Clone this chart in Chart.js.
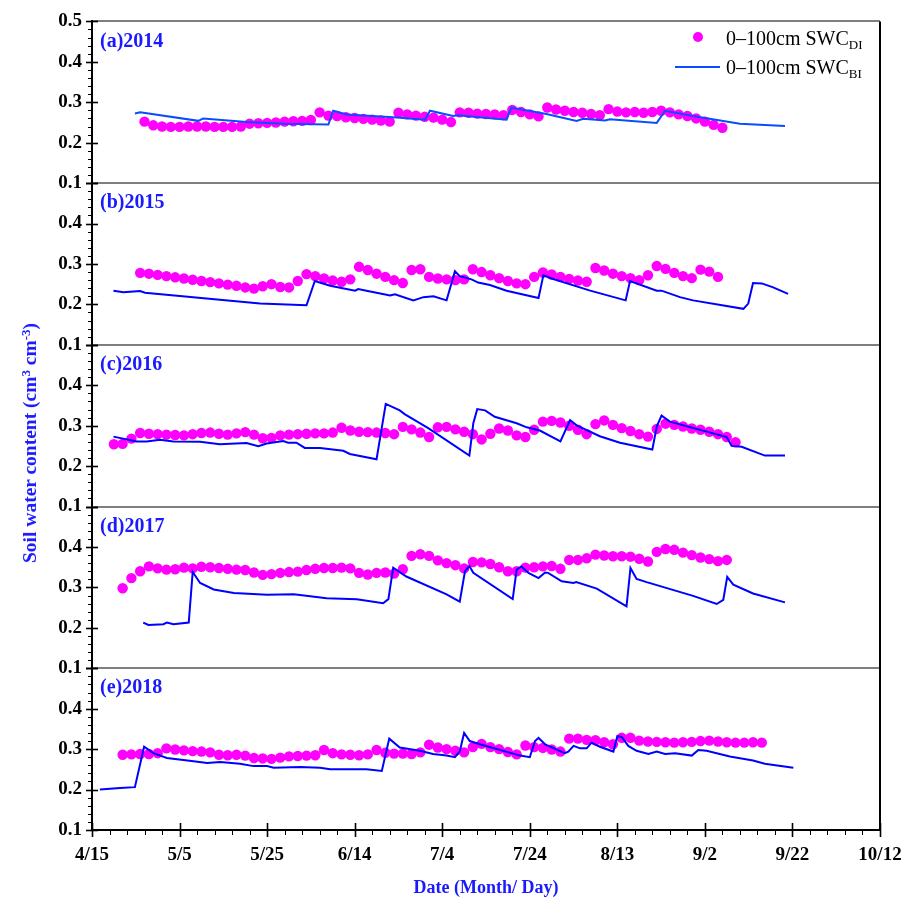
<!DOCTYPE html>
<html><head><meta charset="utf-8">
<script src="https://cdn.jsdelivr.net/npm/chart.js@4.4.1/dist/chart.umd.min.js"></script>
<style>
html,body{margin:0;padding:0;background:#fff;}
#wrap{position:relative;width:908px;height:899px;overflow:hidden;}
#c{position:absolute;left:0;top:0;}
.lg{position:absolute;font-family:'Liberation Serif',serif;font-size:20px;color:#000;white-space:nowrap;line-height:20px;}
.lg sub{font-size:13px;vertical-align:-4px;line-height:0;}
#ytitle{position:absolute;left:30px;top:443px;transform:translate(-50%,-50%) rotate(-90deg);font-family:'Liberation Serif',serif;font-weight:bold;font-size:19.5px;color:#1a1aff;white-space:nowrap;}
#ytitle sup{font-size:13px;vertical-align:6px;line-height:0;}
</style></head>
<body><div id="wrap">
<canvas id="c" width="908" height="899"></canvas>
<div id="ytitle">Soil water content (cm<sup>3</sup> cm<sup>-3</sup>)</div>
<div style="position:absolute;left:693px;top:32px;width:10px;height:10px;border-radius:50%;background:#ff00ff;"></div>
<div class="lg" style="left:726px;top:28px;">0–100cm SWC<sub>DI</sub></div>
<div style="position:absolute;left:675px;top:66px;width:45px;height:2px;background:#0a4dff;"></div>
<div class="lg" style="left:726px;top:57px;">0–100cm SWC<sub>BI</sub></div>
</div>
<script>
// x = days after 15 April
const xTickLabels = ['4/15','5/5','5/25','6/14','7/4','7/24','8/13','9/2','9/22','10/12'];
const yTickLabels = ['0.1','0.2','0.3','0.4','0.5'];
const years = [2014, 2015, 2016, 2017, 2018];
const panelLabels = ['(a)2014','(b)2015','(c)2016','(d)2017','(e)2018'];
const DI_STEP = 2;

// ---- 2014 ----
const di2014Start = 12;
const di2014 = [.252,.243,.240,.239,.239,.240,.240,.240,.239,.239,.239,.240,.247,.248,.249,.250,.252,.253,.254,.256,
  .275,.267,.266,.263,.261,.259,.257,.255,.252,.274,.270,.267,.264,.262,.257,.251,.275,.274,.272,.271,.270,.268,
  .281,.276,.270,.265,.287,.282,.279,.276,.274,.271,.268,.283,.277,.275,.276,.274,.276,.279,.275,.270,.266,.260,.252,.244,.237];
const biDays2014 = [9.8,11,24.3,25.4,35.3,43.7,54,55.1,58.2,68.8,76.1,77.2,82.5,83.5,94.7,95.8,103.8,110.7,112.2,117.2,118.3,129,130.9,137.3,148,158.3];
const bi2014 = [.272,.275,.254,.260,.251,.247,.245,.279,.270,.263,.257,.279,.266,.268,.257,.287,.271,.254,.259,.255,.258,.249,.279,.266,.247,.241];

// ---- 2015 ----
const di2015Start = 11;
const di2015 = [.278,.276,.273,.270,.267,.264,.261,.258,.255,.252,.249,.246,.242,.239,.245,.250,.243,.242,.258,.275,
  .270,.264,.259,.256,.262,.293,.285,.276,.268,.260,.253,.285,.287,.268,.264,.262,.260,.262,.287,.280,.272,.265,
  .258,.252,.250,.268,.279,.274,.268,.263,.259,.256,.290,.284,.276,.270,.265,.260,.272,.295,.288,.278,.270,.265,.286,.281,.268];
const biDays2015 = [4.9,7.2,11,12.1,38.4,49,50.9,54.4,60.1,60.8,62.7,68.1,69.2,73.4,75.7,78,81,82.9,84,86.7,88.2,90.9,94.7,102,103.1,105,113.8,121.9,122.9,129,130.1,134.3,137.3,148.8,149.9,151,153,155.6,159];
const bi2015 = [.234,.230,.233,.229,.202,.198,.258,.246,.234,.238,.234,.222,.225,.210,.218,.220,.210,.282,.270,.262,.254,.248,.234,.216,.272,.264,.234,.210,.258,.234,.234,.218,.210,.189,.202,.253,.252,.242,.226];

// ---- 2016 ----
const di2016Start = 5;
const di2016 = [.254,.255,.268,.282,.280,.279,.278,.277,.276,.279,.282,.283,.280,.278,.281,.284,.278,.269,.270,.276,
  .278,.279,.280,.281,.281,.283,.295,.288,.285,.284,.283,.282,.279,.297,.291,.283,.272,.296,.297,.291,.285,.279,
  .266,.280,.293,.288,.276,.272,.290,.310,.312,.308,.300,.290,.279,.304,.313,.302,.294,.287,.279,.273,.292,.305,
  .302,.298,.293,.290,.285,.279,.272,.259];
const biDays2016 = [4.9,10.2,12.5,15.5,18.6,24.7,29.2,35.3,38,39.9,43.7,44.8,46.7,48.6,52.1,57.4,58.9,65,67.1,70.3,71.5,76.8,86.2,87.1,88,89.8,92,97,99.3,102.3,107,109.2,110.7,116,120.6,128,129,130.1,132,145,146.1,148.4,153.7,158.3];
const bi2016 = [.273,.261,.261,.265,.261,.260,.254,.257,.249,.256,.262,.258,.258,.245,.245,.238,.230,.217,.354,.338,.328,.294,.226,.306,.341,.338,.322,.306,.296,.288,.261,.314,.301,.274,.258,.241,.298,.325,.310,.272,.250,.248,.226,.226];

// ---- 2017 ----
const di2017Start = 7;
const di2017 = [.298,.323,.340,.352,.347,.344,.345,.349,.347,.351,.350,.348,.346,.344,.343,.337,.331,.333,.336,.338,
  .339,.343,.346,.348,.348,.349,.347,.336,.332,.336,.337,.334,.345,.378,.382,.378,.367,.360,.355,.347,.363,.362,
  .358,.350,.340,.340,.349,.350,.352,.353,.346,.368,.368,.372,.381,.379,.377,.377,.376,.371,.364,.388,.395,.393,
  .386,.380,.374,.370,.365,.368];
const biDays2017 = [11.7,12.9,16.3,17.1,18.6,22.1,23,24.7,27.8,32.4,40,46.1,53.6,60.5,66.5,67.7,68.8,71.8,81,84,85.2,86.2,87.1,96.1,97,98.1,99.7,102,103.5,104.2,107.3,110,110.6,115.3,122.1,123,124.4,126.7,137.3,142.7,144.2,145.1,146.5,151,158.3];
const bi2017 = [.213,.207,.209,.213,.209,.213,.338,.311,.295,.286,.282,.283,.273,.271,.261,.271,.349,.327,.283,.265,.340,.353,.336,.271,.344,.352,.336,.323,.337,.336,.315,.311,.313,.297,.253,.348,.321,.313,.279,.259,.269,.326,.307,.285,.263];

// ---- 2018 ----
const di2018Start = 7;
const di2018 = [.286,.287,.288,.288,.290,.302,.299,.297,.295,.294,.292,.286,.285,.286,.284,.278,.277,.276,.279,.282,
  .283,.284,.285,.298,.290,.287,.286,.285,.287,.298,.291,.289,.289,.288,.292,.311,.304,.300,.296,.292,.305,.313,
  .305,.300,.293,.287,.309,.305,.303,.299,.294,.326,.326,.323,.322,.317,.312,.328,.328,.321,.319,.318,.317,.316,
  .317,.318,.320,.321,.319,.317,.316,.316,.317,.316];
const biDays2018 = [1.8,6.4,9.8,11.9,14,17.1,23.2,26.3,29.3,33.8,36.9,40,41.5,47.5,52.1,54.4,62.7,66.2,67.9,70.3,74.9,77.9,81,82.9,84,85,86.3,88.6,97.8,100,101.2,102,103.5,108,108.8,110,111.5,113,114.1,116,119.1,120,121,122.5,124.4,127.1,129,130.9,133.2,137,138.5,140.4,145.7,151,153.7,160.2];
const bi2018 = [.200,.204,.206,.306,.290,.278,.270,.266,.268,.264,.258,.258,.254,.256,.254,.250,.250,.246,.326,.304,.296,.288,.284,.280,.294,.340,.320,.312,.284,.280,.320,.328,.312,.290,.294,.308,.302,.302,.316,.306,.294,.332,.330,.308,.296,.288,.294,.288,.290,.284,.298,.296,.282,.272,.264,.254];

const diSeries = [[di2014Start,di2014],[di2015Start,di2015],[di2016Start,di2016],[di2017Start,di2017],[di2018Start,di2018]];
const biSeries = [[biDays2014,bi2014],[biDays2015,bi2015],[biDays2016,bi2016],[biDays2017,bi2017],[biDays2018,bi2018]];
const biColors = ['#0a4dff','#0000ff','#0000ff','#0000ff','#0000ff'];

const FONT = 'Liberation Serif';
const datasets = [];
years.forEach((yr, i) => {
  const [bd, bv] = biSeries[i];
  datasets.push({
    label: '0–100cm SWC BI ' + yr, yAxisID: 'y' + yr, order: 0,
    data: bd.map((d, k) => ({x: d, y: bv[k]})),
    borderColor: biColors[i], borderWidth: 2, pointRadius: 0, tension: 0, fill: false
  });
  const [st, dv] = diSeries[i];
  datasets.push({
    label: '0–100cm SWC DI ' + yr, yAxisID: 'y' + yr, order: 1, showLine: false,
    data: dv.map((v, k) => ({x: st + k * DI_STEP, y: v})),
    pointRadius: 5.2, pointBorderWidth: 0, pointBackgroundColor: '#ff00ff', pointBorderColor: '#ff00ff'
  });
});

const scales = {
  x: {
    type: 'linear', position: 'bottom', min: 0, max: 180,
    border: {color: '#000', width: 2},
    grid: {drawOnChartArea: false, drawTicks: false},
    ticks: {stepSize: 20, autoSkip: false, maxRotation: 0, padding: 14, color: '#000',
      font: {family: FONT, size: 19, weight: 'bold'},
      callback: v => xTickLabels[Math.round(v / 20)]},
    title: {display: true, text: 'Date (Month/ Day)', color: '#1a1aff',
      font: {family: FONT, size: 18, weight: 'bold'}, padding: {top: 16, bottom: 0}},
    afterFit: s => { s.height = 69; s.paddingRight = 20; s.paddingLeft = 0; }
  }
};
// stacked left axes are laid out bottom-up, so add the last panel first
years.slice().reverse().forEach(yr => {
  scales['y' + yr] = {
    type: 'linear', position: 'left', stack: 'panels', stackWeight: 1,
    min: 0.1, max: 0.5,
    border: {color: '#000', width: 2},
    grid: {drawTicks: false, lineWidth: 2,
      color: c => (c.tick && Math.abs(c.tick.value - 0.5) < 1e-6) ? '#7f7f7f' : 'rgba(0,0,0,0)'},
    ticks: {stepSize: 0.1, autoSkip: false, padding: 10, color: '#000',
      font: {family: FONT, size: 19, weight: 'bold'},
      callback: v => {
        const k = Math.round((v - 0.1) / 0.1);
        if (yr !== years[0] && k === 4) return '';
        return yTickLabels[k];
      }},
    afterFit: s => { s.width = 92; }
  };
});

const deco = {
  id: 'deco',
  afterDatasetsDraw(chart) {
    const ctx = chart.ctx, a = chart.chartArea;
    ctx.save();
    ctx.strokeStyle = '#000';
    ctx.lineWidth = 2;
    ctx.beginPath(); ctx.moveTo(a.right, a.top); ctx.lineTo(a.right, a.bottom); ctx.stroke();
    years.forEach((yr, i) => {
      const s = chart.scales['y' + yr];
      const x0 = s.right;
      for (let k = 0; k <= 20; k++) {
        const v = 0.1 + k * 0.02;
        const py = Math.round(s.getPixelForValue(v)) + 0.5;
        const major = k % 5 === 0;
        ctx.lineWidth = major ? 1.6 : 1;
        ctx.beginPath();
        ctx.moveTo(x0 - (major ? 6 : 4), py);
        ctx.lineTo(major ? x0 + 6 : x0, py);
        ctx.stroke();
      }
      ctx.fillStyle = '#1a1aff';
      ctx.font = 'bold 20px "' + FONT + '"';
      ctx.textBaseline = 'middle';
      ctx.textAlign = 'left';
      ctx.fillText(panelLabels[i], a.left + 8, s.top + 20);
    });
    const sx = chart.scales.x;
    for (let d = 0; d <= 180; d += 4) {
      const px = Math.round(sx.getPixelForValue(d)) + 0.5;
      const major = d % 20 === 0;
      ctx.lineWidth = major ? 1.6 : 1;
      ctx.beginPath();
      ctx.moveTo(px, a.bottom + (major ? 7 : 5));
      ctx.lineTo(px, major ? a.bottom - 7 : a.bottom);
      ctx.stroke();
    }
    ctx.restore();
  }
};

new Chart(document.getElementById('c'), {
  type: 'line',
  data: {datasets},
  options: {
    responsive: false, devicePixelRatio: 1, animation: false,
    layout: {padding: {top: 19, right: 28, left: 0, bottom: 0}},
    plugins: {legend: {display: false}, tooltip: {enabled: false}},
    scales
  },
  plugins: [deco]
});
</script>
</body></html>
